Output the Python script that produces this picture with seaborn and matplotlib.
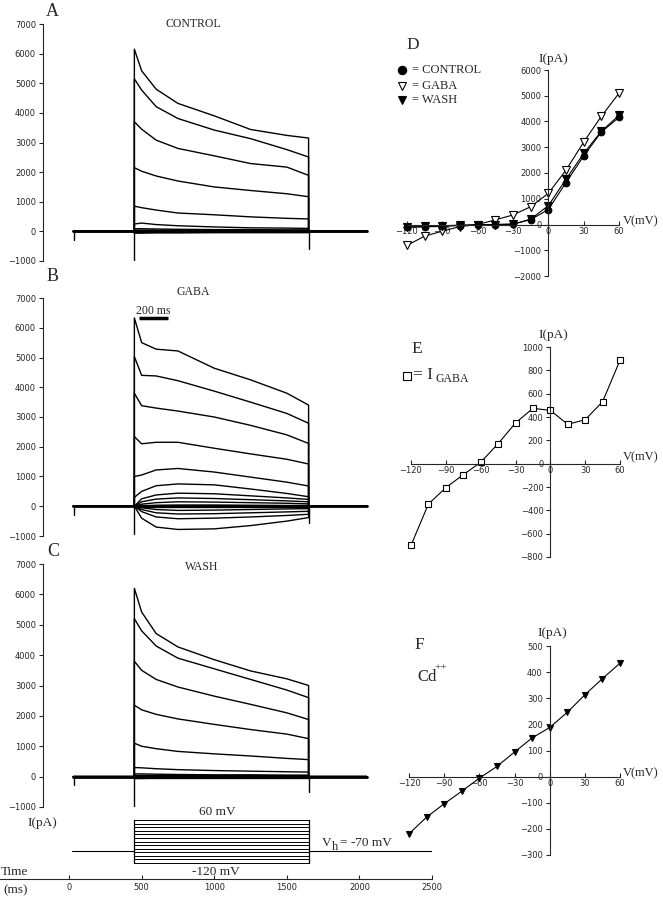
import numpy as np
import pandas as pd
import matplotlib
matplotlib.use('Agg')
import matplotlib.pyplot as plt
import seaborn as sns

sns.set_style('ticks')
plt.rcParams['font.family'] = ['Liberation Serif', 'DejaVu Serif']
TICK_FONT = 'DejaVu Sans'
TICK_SIZE = 6

# ---- 전류 기록 (A, B, C): 시간 (ms) ----
trace_start, trace_end = 30, 2050
step_on, step_off = 450, 1650
sample_t = [450, 500, 600, 750, 1000, 1250, 1500, 1650]

control_traces = [
    [6150, 5420, 4800, 4320, 3900, 3440, 3240, 3150],
    [5150, 4770, 4210, 3810, 3420, 3130, 2760, 2510],
    [3700, 3450, 3080, 2800, 2550, 2290, 2170, 1890],
    [2150, 2030, 1870, 1700, 1500, 1380, 1270, 1170],
    [850, 800, 720, 620, 560, 490, 440, 420],
    [250, 280, 230, 190, 150, 120, 110, 100],
    [90, 90, 80, 70, 60, 60, 50, 50],
    [40, 40, 40, 30, 30, 30, 30, 30],
    [0, 0, 0, 0, 0, 0, 0, 0],
    [-30, -30, -30, -20, -20, -20, -20, -20],
    [-60, -60, -50, -50, -40, -40, -40, -40],
]
gaba_traces = [
    [6330, 5500, 5280, 5220, 4640, 4250, 3800, 3400],
    [5030, 4400, 4380, 4220, 3870, 3500, 3120, 2790],
    [3800, 3380, 3300, 3200, 3000, 2720, 2400, 2110],
    [2340, 2100, 2150, 2150, 1950, 1760, 1580, 1420],
    [1000, 1050, 1220, 1270, 1150, 980, 810, 680],
    [300, 500, 690, 750, 720, 580, 430, 320],
    [0, 250, 380, 440, 420, 350, 280, 230],
    [0, 150, 240, 280, 260, 220, 180, 150],
    [0, 70, 120, 150, 140, 120, 100, 80],
    [0, 10, 30, 40, 40, 30, 20, 20],
    [0, -50, -110, -140, -130, -110, -90, -80],
    [0, -110, -220, -260, -250, -220, -190, -170],
    [0, -180, -360, -420, -400, -360, -310, -270],
    [0, -400, -700, -780, -760, -650, -500, -380],
]
wash_traces = [
    [6200, 5420, 4710, 4270, 3850, 3480, 3220, 3000],
    [5200, 4800, 4300, 3900, 3550, 3200, 2850, 2600],
    [3800, 3500, 3200, 2950, 2650, 2380, 2100, 1880],
    [2350, 2200, 2050, 1900, 1720, 1550, 1400, 1250],
    [1100, 1000, 920, 830, 750, 680, 600, 560],
    [300, 290, 260, 230, 200, 180, 160, 150],
    [90, 90, 80, 70, 60, 60, 50, 50],
    [40, 40, 40, 30, 30, 30, 30, 30],
    [0, 0, 0, 0, 0, 0, 0, 0],
    [-30, -30, -30, -20, -20, -20, -20, -20],
    [-60, -60, -50, -50, -40, -40, -40, -40],
]
# 용량성 과도전류 (on, off) 최저값
control_spikes = [-1000, -590]
gaba_spikes = [-920, -560]
wash_spikes = [-1000, -500]
start_blip = -280
scale_bar_t = [480, 680]

# ---- 자극 프로토콜 (mV) ----
step_levels = [-120, -105, -90, -75, -60, -45, -30, -15, 0, 15, 30, 45, 60]
v_hold = -70
time_ticks = [0, 500, 1000, 1500, 2000, 2500]

# ---- I-V 곡선 (D, E, F) ----
v_steps = [-120, -105, -90, -75, -60, -45, -30, -15, 0, 15, 30, 45, 60]
control_iv = [-110, -90, -75, -40, -15, 0, 15, 190, 580, 1630, 2660, 3590, 4160]
gaba_iv = [-810, -450, -260, -80, 0, 180, 370, 690, 1210, 2110, 3200, 4200, 5100]
wash_iv = [-95, -75, -50, -25, -10, 0, 10, 210, 730, 1760, 2760, 3620, 4240]
i_gaba = [-700, -346, -206, -94, 11, 171, 349, 474, 457, 337, 377, 531, 886]
cd_iv = [-219, -155, -104, -56, -6, 39, 94, 148, 188, 246, 313, 375, 434]

W, H = 663, 900
fig = plt.figure(figsize=(W / 100, H / 100), dpi=100)


def fx(px):
    return px / W


def fy(py):
    return 1 - py / H


def add_ax(left, top, right, bottom):
    return fig.add_axes([fx(left), fy(bottom), (right - left) / W, (bottom - top) / H])


def draw_traces(ax, traces, spikes):
    x = [trace_start, step_on] + sample_t + [step_off, trace_end]
    for tr in traces:
        y = [0, 0] + tr + [0, 0]
        sns.lineplot(x=x, y=y, ax=ax, estimator=None, sort=False, color='black', linewidth=1.0)
    # 기준선 (잡음 때문에 두껍게 보임)
    ax.plot([trace_start, step_on], [0, 0], color='black', lw=2.0)
    ax.plot([step_off, trace_end], [0, 0], color='black', lw=2.0)
    ax.plot([step_on, step_off], [0, 0], color='black', lw=2.4)
    ax.plot([step_on, step_on], [spikes[0], 0], color='black', lw=1.0)
    ax.plot([step_off, step_off], [spikes[1], 0], color='black', lw=1.0)
    ax.plot([trace_start + 5, trace_start + 5], [start_blip, 0], color='black', lw=1.0)
    ax.set_xlim(-180, 2500)
    ax.set_ylim(-1000, 7000)
    ax.set_yticks(range(-1000, 7001, 1000))
    ax.set_xticks([])
    for s in ['top', 'right', 'bottom']:
        ax.spines[s].set_visible(False)
    ax.spines['left'].set_linewidth(0.8)
    ax.tick_params(axis='y', direction='out', length=3, width=0.8, pad=2, labelsize=TICK_SIZE)
    for lab in ax.get_yticklabels():
        lab.set_fontfamily(TICK_FONT)
    ax.patch.set_alpha(0)


axA = add_ax(42.9, 24, 432, 261)
axB = add_ax(42.9, 298, 432, 536)
axC = add_ax(42.9, 564, 432, 807)
draw_traces(axA, control_traces, control_spikes)
draw_traces(axB, gaba_traces, gaba_spikes)
draw_traces(axC, wash_traces, wash_spikes)

# 200 ms 스케일 바
axB.plot(scale_bar_t, [6330, 6330], color='black', lw=2.5, solid_capstyle='butt')
fig.text(fx(153), fy(311), '200 ms', fontsize=8.5, ha='center', va='center')

for lab, x, y in [('A', 52, 12), ('B', 53, 277), ('C', 53, 551)]:
    fig.text(fx(x), fy(y), lab, fontsize=13, ha='center', va='center')
for lab, x, y in [('CONTROL', 193, 24), ('GABA', 193, 292), ('WASH', 202, 567)]:
    fig.text(fx(x), fy(y), lab, fontsize=8.5, ha='center', va='center')

# ---- 자극 프로토콜 + 시간축 ----
axS = add_ax(0, 800, 432, 879)
axS.set_xlim(-475, 2500)
axS.set_ylim(-187, 144)
for v in step_levels:
    axS.plot([step_on, step_off], [v, v], color='black', lw=0.7)
axS.plot([step_on, step_on], [step_levels[0], step_levels[-1]], color='black', lw=0.9)
axS.plot([step_off, step_off], [step_levels[0], step_levels[-1]], color='black', lw=0.9)
axS.plot([20, step_on], [v_hold, v_hold], color='black', lw=0.8)
axS.plot([step_off, 2500], [v_hold, v_hold], color='black', lw=0.8)
axS.set_xticks(time_ticks)
axS.set_yticks([])
for s in ['top', 'right', 'left']:
    axS.spines[s].set_visible(False)
axS.spines['bottom'].set_linewidth(0.8)
axS.tick_params(axis='x', direction='in', length=3, width=0.8, pad=3, labelsize=TICK_SIZE)
for lab in axS.get_xticklabels():
    lab.set_fontfamily(TICK_FONT)
axS.patch.set_alpha(0)

fig.text(fx(217), fy(812), '60 mV', fontsize=9.5, ha='center', va='center')
fig.text(fx(216), fy(872), '-120 mV', fontsize=9.5, ha='center', va='center')
fig.text(fx(322), fy(843), 'V', fontsize=9.5, ha='left', va='center')
fig.text(fx(332), fy(847), 'h', fontsize=9, ha='left', va='center')
fig.text(fx(340), fy(843), '= -70 mV', fontsize=9.5, ha='left', va='center')
fig.text(fx(42), fy(823), 'I(pA)', fontsize=9.5, ha='center', va='center')
fig.text(fx(1), fy(872), 'Time', fontsize=9.5, ha='left', va='center')
fig.text(fx(3), fy(890), '(ms)', fontsize=9.5, ha='left', va='center')


# ---- I-V 패널 ----
def style_iv(ax, ylo, yhi, ystep):
    ax.set_xlim(-120, 60)
    ax.set_ylim(ylo, yhi)
    ax.set_xticks(range(-120, 61, 30))
    ax.set_yticks(range(ylo, yhi + 1, ystep))
    ax.spines['left'].set_position(('data', 0))
    ax.spines['bottom'].set_position(('data', 0))
    ax.spines['left'].set_bounds(ylo, yhi)
    ax.spines['bottom'].set_bounds(-120, 60)
    ax.spines['top'].set_visible(False)
    ax.spines['right'].set_visible(False)
    for s in ['left', 'bottom']:
        ax.spines[s].set_linewidth(0.8)
    ax.tick_params(axis='x', direction='in', length=3, width=0.8, pad=2, labelsize=TICK_SIZE)
    ax.tick_params(axis='y', direction='out', length=3, width=0.8, pad=2, labelsize=TICK_SIZE)
    for lab in ax.get_xticklabels() + ax.get_yticklabels():
        lab.set_fontfamily(TICK_FONT)
    ax.set_xlabel('')
    ax.set_ylabel('')
    ax.patch.set_alpha(0)


def iv_line(ax, y, marker, face, ms):
    sns.lineplot(x=v_steps, y=y, ax=ax, color='black', linewidth=0.8, marker=marker,
                 markersize=ms, markerfacecolor=face, markeredgecolor='black',
                 markeredgewidth=0.8, clip_on=False)


axD = add_ax(407, 70, 619, 276)
iv_line(axD, gaba_iv, 'v', 'white', 5.2)
iv_line(axD, wash_iv, 'v', 'black', 5.2)
iv_line(axD, control_iv, 'o', 'black', 4.8)
style_iv(axD, -2000, 6000, 1000)

axE = add_ax(411, 347, 620, 557)
iv_line(axE, i_gaba, 's', 'white', 4.2)
style_iv(axE, -800, 1000, 200)

axF = add_ax(409, 646, 620, 855)
iv_line(axF, cd_iv, 'v', 'black', 4)
style_iv(axF, -300, 500, 100)

for x, y in [(553, 59), (553, 335), (552, 633)]:
    fig.text(fx(x), fy(y), 'I(pA)', fontsize=9.5, ha='center', va='center')
for y in [221, 457, 773]:
    fig.text(fx(623), fy(y), 'V(mV)', fontsize=9, ha='left', va='center')

for lab, x, y in [('D', 413, 45), ('E', 417, 349), ('F', 419, 645)]:
    fig.text(fx(x), fy(y), lab, fontsize=12.5, ha='center', va='center')

# D 범례
legend_items = [('o', 'black', 70, '= CONTROL'), ('v', 'white', 86, '= GABA'), ('v', 'black', 100, '= WASH')]
for mk, face, y, txt in legend_items:
    fig.lines.append(plt.Line2D([fx(402)], [fy(y)], marker=mk, markersize=6, markerfacecolor=face,
                                markeredgecolor='black', markeredgewidth=0.8, transform=fig.transFigure))
    fig.text(fx(412), fy(y), txt, fontsize=9, ha='left', va='center')

# E 범례
fig.lines.append(plt.Line2D([fx(407)], [fy(376)], marker='s', markersize=6, markerfacecolor='white',
                            markeredgecolor='black', markeredgewidth=0.8, transform=fig.transFigure))
fig.text(fx(413), fy(375), '= I', fontsize=12.5, ha='left', va='center')
fig.text(fx(435), fy(379), 'GABA', fontsize=8.5, ha='left', va='center')

# F 라벨
fig.text(fx(417), fy(677), 'Cd', fontsize=12, ha='left', va='center')
fig.text(fx(434), fy(668), '++', fontsize=8, ha='left', va='center')

fig.savefig('out.png', dpi=100)
